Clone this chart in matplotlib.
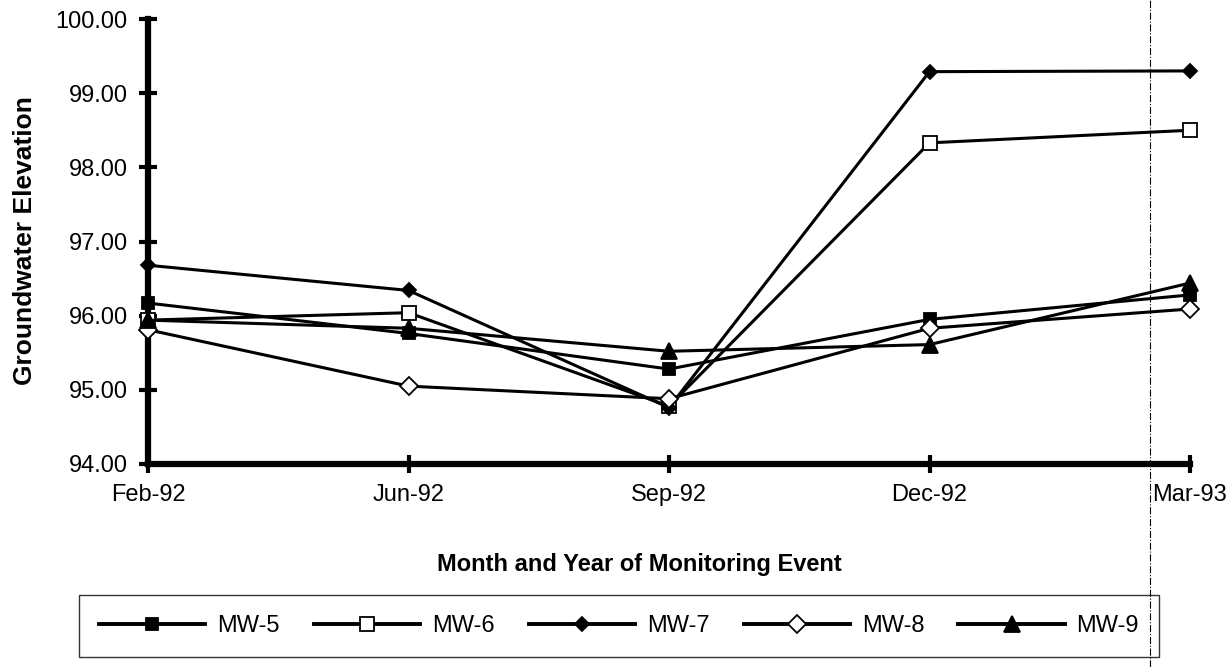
import matplotlib
matplotlib.use("Agg")
import matplotlib.pyplot as plt
from matplotlib.lines import Line2D

plt.rcParams["font.family"] = ["Liberation Sans", "DejaVu Sans"]

months = ["Feb-92", "Jun-92", "Sep-92", "Dec-92", "Mar-93"]
mw5 = [96.17, 95.76, 95.28, 95.95, 96.28]
mw6 = [95.94, 96.04, 94.78, 98.33, 98.50]
mw7 = [96.68, 96.34, 94.76, 99.29, 99.30]
mw8 = [95.81, 95.05, 94.88, 95.83, 96.09]
mw9 = [95.94, 95.83, 95.52, 95.61, 96.44]

series = [
    ("MW-5", mw5, "s", "black", 9),
    ("MW-6", mw6, "s", "white", 10),
    ("MW-7", mw7, "D", "black", 7),
    ("MW-8", mw8, "D", "white", 9),
    ("MW-9", mw9, "^", "black", 11),
]

W, H = 1228, 667
fig = plt.figure(figsize=(W / 100, H / 100), dpi=100)
ax = fig.add_axes([148 / W, 203 / H, 1042 / W, 445 / H])

x = list(range(len(months)))
for name, vals, mk, face, ms in series:
    ax.plot(x, vals, color="black", linewidth=2.2, marker=mk, markersize=ms,
            markerfacecolor=face, markeredgecolor="black", markeredgewidth=1.3,
            label=name, clip_on=False, zorder=3)

ax.set_xlim(0, len(months) - 1)
ax.set_ylim(94, 100)
ax.set_xticks(x)
ax.set_xticklabels(months)
yt = [94, 95, 96, 97, 98, 99, 100]
ax.set_yticks(yt)
ax.set_yticklabels(["%.2f" % v for v in yt])

for side in ("top", "right"):
    ax.spines[side].set_visible(False)
ax.spines["left"].set_linewidth(4.5)
ax.spines["bottom"].set_linewidth(4.5)
ax.tick_params(axis="y", direction="inout", length=13, width=3, pad=8, labelsize=17)
ax.tick_params(axis="x", direction="inout", length=13, width=3, pad=8, labelsize=17)

ax.set_xlabel("Month and Year of Monitoring Event", fontsize=17, fontweight="bold")
ax.xaxis.set_label_coords(0.472, -0.2)
ax.set_ylabel("Groundwater Elevation", fontsize=19, fontweight="bold")
ax.yaxis.set_label_coords(-0.107, 0.503)

leg = ax.legend(loc="center", ncol=5, bbox_to_anchor=(619 / W, 41 / H),
                bbox_transform=fig.transFigure, frameon=True, fancybox=False,
                handlelength=4.5, handletextpad=0.5, columnspacing=1.45,
                borderpad=0.85, fontsize=17, borderaxespad=0)
leg.get_frame().set_edgecolor("black")
leg.get_frame().set_linewidth(1.0)
for h in leg.get_lines():
    h.set_linewidth(2.8)

# dash-dot page line from the scanned source
fig.add_artist(Line2D([1150 / W, 1150 / W], [0.0, 1.0],
                      transform=fig.transFigure, color="black",
                      linewidth=0.8, linestyle="-."))

fig.savefig("out.png", dpi=100)
